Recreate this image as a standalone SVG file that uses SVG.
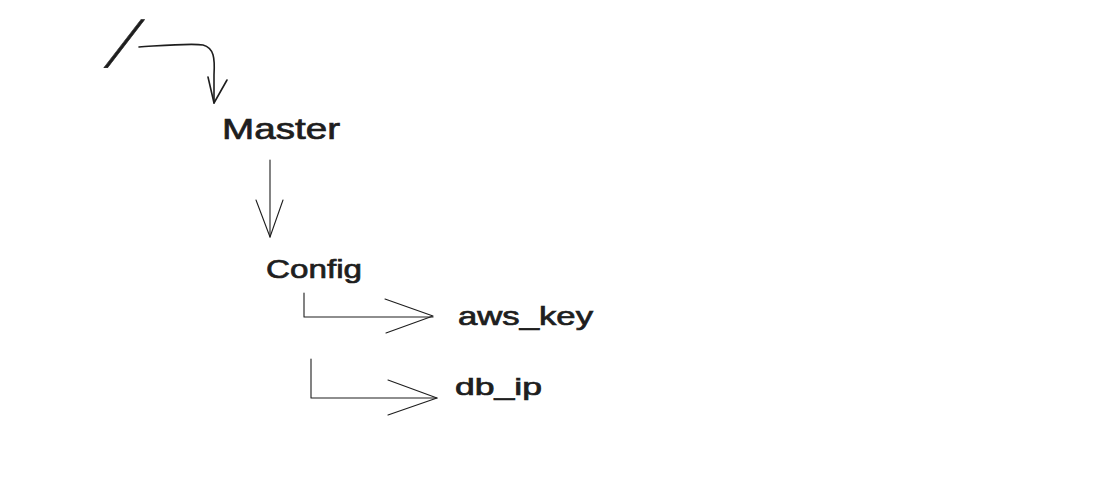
<svg xmlns="http://www.w3.org/2000/svg" width="1111" height="485" viewBox="0 0 1111 485">
<style>
.lbl{font-family:"Liberation Sans",Arial,sans-serif;fill:#1e1e1e;stroke:#1e1e1e;stroke-width:0.7}
.c{fill:none;stroke:#1e1e1e;stroke-linecap:round;stroke-linejoin:round}
</style>
<rect width="1111" height="485" fill="#ffffff"/>
<g id="root">
<text class="lbl" style="stroke-width:0.6" x="0" y="17" font-size="48" text-anchor="middle" transform="translate(124 43.5) skewX(-29.7) scale(1 1.36)">/</text>
</g>
<g id="master">
<text class="lbl" x="222" y="139" font-size="29" textLength="118" lengthAdjust="spacingAndGlyphs">Master</text>
</g>
<g id="config">
<text class="lbl" x="266" y="278" font-size="26" textLength="96" lengthAdjust="spacingAndGlyphs">Config</text>
</g>
<g id="aws_key">
<text class="lbl" x="458" y="325" font-size="25" textLength="135" lengthAdjust="spacingAndGlyphs">aws_key</text>
</g>
<g id="db_ip">
<text class="lbl" x="455" y="395" font-size="24" textLength="87" lengthAdjust="spacingAndGlyphs">db_ip</text>
</g>
<g id="connectors">
<path class="c" stroke-width="1.6" d="M139 47 C170 45 192 43 203 45 C214 48 215 58 214 75 L214 103"/>
<path class="c" stroke-width="1.6" d="M208 77 L214 103 L227 80"/>
<path class="c" stroke-width="1.1" d="M270 160 L270 237"/>
<path class="c" stroke-width="1.1" d="M256 200 L270 237 L283 200"/>
<path class="c" stroke-width="1.1" d="M304 293 L304 317 L433 317"/>
<path class="c" stroke-width="1.1" d="M385 299 L433 316 L386 333"/>
<path class="c" stroke-width="1.1" d="M311 359 L311 398 L437 398"/>
<path class="c" stroke-width="1.1" d="M388 380 L437 398 L388 415"/>
</g>
</svg>
